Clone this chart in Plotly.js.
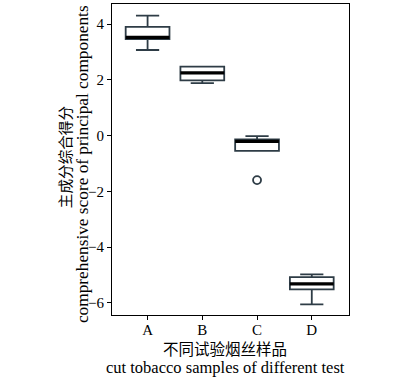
<!DOCTYPE html>
<html>
<head>
<meta charset="utf-8">
<script src="https://cdn.plot.ly/plotly-3.0.1.min.js"></script>
<style>html,body{margin:0;padding:0;background:#fff;}#chart{width:413px;height:378px;}</style>
</head>
<body>
<div id="chart"></div>
<script>
var categories = ['A', 'B', 'C', 'D'];
var lowerFence = [3.07, 1.88, -0.55, -6.06];
var q1Values = [3.46, 1.98, -0.55, -5.52];
var medianValues = [3.52, 2.25, -0.21, -5.32];
var q3Values = [3.90, 2.47, -0.14, -5.08];
var upperFence = [4.30, 2.47, -0.02, -4.98];
var outlierCategory = [2];
var outlierValues = [-1.6];
var yTickValues = [-6, -4, -2, 0, 2, 4];
var xTitleZh = '不同试验烟丝样品';
var xTitleEn = 'cut tobacco samples of different test';
var yTitleZh = '主成分综合得分';
var yTitleEn = 'comprehensive score of principal components';

var xPos = categories.map(function (c, i) { return i; });
var boxHalf = 0.4;
var medX = [], medY = [];
xPos.forEach(function (x, i) {
  medX.push(x - boxHalf, x + boxHalf, null);
  medY.push(medianValues[i], medianValues[i], null);
});

var lineCol = '#2e3c46';
var serif = 'Liberation Serif, Times New Roman, serif';
var cjk = 'Noto Sans CJK SC, sans-serif';

var traces = [
  {
    type: 'box',
    x: xPos,
    q1: q1Values,
    median: medianValues,
    q3: q3Values,
    lowerfence: lowerFence,
    upperfence: upperFence,
    width: 0.8,
    whiskerwidth: 0.53,
    fillcolor: '#ffffff',
    line: {color: lineCol, width: 1.8},
    boxpoints: false,
    showlegend: false,
    hoverinfo: 'skip'
  },
  {
    type: 'scatter',
    mode: 'lines',
    x: medX,
    y: medY,
    line: {color: '#000000', width: 3.2},
    showlegend: false,
    hoverinfo: 'skip'
  },
  {
    type: 'scatter',
    mode: 'markers',
    x: outlierCategory,
    y: outlierValues,
    marker: {symbol: 'circle-open', size: 8, color: lineCol, line: {width: 1.8, color: lineCol}},
    showlegend: false,
    hoverinfo: 'skip'
  }
];

var layout = {
  width: 413,
  height: 378,
  margin: {l: 112, r: 64, t: 4, b: 63},
  paper_bgcolor: '#ffffff',
  plot_bgcolor: '#ffffff',
  font: {family: serif, size: 15, color: '#000000'},
  xaxis: {
    range: [-0.65, 3.68],
    tickvals: xPos,
    ticktext: categories,
    ticks: 'outside',
    ticklen: 4,
    tickcolor: '#000',
    showline: true,
    linecolor: '#000',
    linewidth: 1,
    mirror: true,
    showgrid: false,
    zeroline: false,
    ticklabelstandoff: -3,
    tickfont: {family: serif, size: 15}
  },
  yaxis: {
    range: [-6.44, 4.72],
    tickvals: yTickValues,
    ticks: 'outside',
    ticklen: 4,
    tickcolor: '#000',
    showline: true,
    linecolor: '#000',
    linewidth: 1,
    mirror: true,
    showgrid: false,
    zeroline: false,
    tickfont: {family: serif, size: 15}
  },
  annotations: [
    {text: xTitleZh, xref: 'paper', yref: 'paper', x: 0.477, y: -0.106, xanchor: 'center', yanchor: 'middle', showarrow: false, font: {family: cjk, size: 15.5, color: '#000'}},
    {text: xTitleEn, xref: 'paper', yref: 'paper', x: 0.477, y: -0.170, xanchor: 'center', yanchor: 'middle', showarrow: false, font: {family: serif, size: 16.5, color: '#000'}},
    {text: yTitleZh, xref: 'paper', yref: 'paper', x: -0.202, y: 0.508, xanchor: 'center', yanchor: 'middle', textangle: -90, showarrow: false, font: {family: cjk, size: 14.6, color: '#000'}},
    {text: yTitleEn, xref: 'paper', yref: 'paper', x: -0.127, y: 0.485, xanchor: 'center', yanchor: 'middle', textangle: -90, showarrow: false, font: {family: serif, size: 17.3, color: '#000'}}
  ]
};

Plotly.newPlot('chart', traces, layout, {staticPlot: true, displayModeBar: false});
</script>
</body>
</html>
